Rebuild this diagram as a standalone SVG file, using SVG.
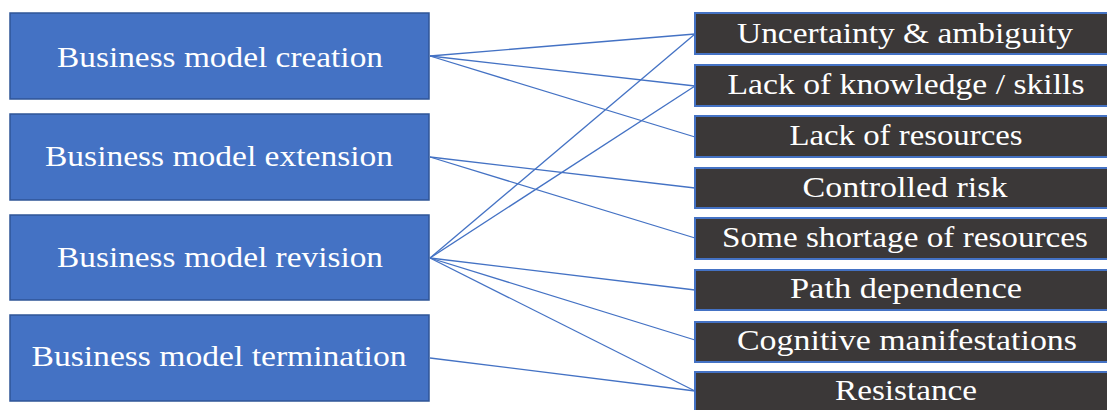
<svg xmlns="http://www.w3.org/2000/svg" width="1107" height="410" viewBox="0 0 1107 410">
  <style>
    .stage rect { fill: #4472c4; stroke: #2f5597; stroke-width: 1.5; }
    .barrier rect { fill: #3b3838; stroke: #4472c4; stroke-width: 2; }
    text { font-family: "Liberation Serif", "Times New Roman", serif; font-size: 29px; fill: #ffffff; text-anchor: middle; }
    .links line { stroke: #4472c4; stroke-width: 1.3; }
  </style>
  <rect width="1107" height="410" fill="#ffffff"/>

  <!-- connectors: stage -> barrier -->
  <g id="links" class="links">
    <line x1="430" y1="56" x2="695" y2="34"/>
    <line x1="430" y1="56" x2="695" y2="86"/>
    <line x1="430" y1="56" x2="695" y2="137"/>
    <line x1="430" y1="157" x2="695" y2="188"/>
    <line x1="430" y1="157" x2="695" y2="238"/>
    <line x1="430" y1="258" x2="695" y2="34"/>
    <line x1="430" y1="258" x2="695" y2="86"/>
    <line x1="430" y1="258" x2="695" y2="290"/>
    <line x1="430" y1="258" x2="695" y2="340"/>
    <line x1="430" y1="258" x2="695" y2="391"/>
    <line x1="430" y1="358" x2="695" y2="391"/>
  </g>

  <!-- business model stages -->
  <g id="stage-creation" class="stage">
    <rect x="10" y="13" width="419" height="86"/>
    <text x="220" y="67" textLength="326" lengthAdjust="spacingAndGlyphs">Business model creation</text>
  </g>
  <g id="stage-extension" class="stage">
    <rect x="10" y="114" width="419" height="86"/>
    <text x="219" y="166" textLength="348" lengthAdjust="spacingAndGlyphs">Business model extension</text>
  </g>
  <g id="stage-revision" class="stage">
    <rect x="10" y="215" width="419" height="85"/>
    <text x="220" y="267" textLength="326" lengthAdjust="spacingAndGlyphs">Business model revision</text>
  </g>
  <g id="stage-termination" class="stage">
    <rect x="10" y="315" width="419" height="86"/>
    <text x="219" y="366" textLength="375" lengthAdjust="spacingAndGlyphs">Business model termination</text>
  </g>

  <!-- barriers -->
  <g id="barrier-uncertainty" class="barrier">
    <rect x="695" y="13" width="420" height="41"/>
    <text x="905" y="43" textLength="336" lengthAdjust="spacingAndGlyphs">Uncertainty &amp; ambiguity</text>
  </g>
  <g id="barrier-knowledge" class="barrier">
    <rect x="695" y="65" width="420" height="41"/>
    <text x="906" y="94" textLength="357" lengthAdjust="spacingAndGlyphs">Lack of knowledge / skills</text>
  </g>
  <g id="barrier-resources" class="barrier">
    <rect x="695" y="116" width="420" height="41"/>
    <text x="906" y="145" textLength="233" lengthAdjust="spacingAndGlyphs">Lack of resources</text>
  </g>
  <g id="barrier-risk" class="barrier">
    <rect x="695" y="168" width="420" height="40"/>
    <text x="905" y="197" textLength="205" lengthAdjust="spacingAndGlyphs">Controlled risk</text>
  </g>
  <g id="barrier-shortage" class="barrier">
    <rect x="695" y="218" width="420" height="41"/>
    <text x="905" y="247" textLength="366" lengthAdjust="spacingAndGlyphs">Some shortage of resources</text>
  </g>
  <g id="barrier-path" class="barrier">
    <rect x="695" y="270" width="420" height="40"/>
    <text x="906" y="298" textLength="232" lengthAdjust="spacingAndGlyphs">Path dependence</text>
  </g>
  <g id="barrier-cognitive" class="barrier">
    <rect x="695" y="322" width="420" height="40"/>
    <text x="907" y="350" textLength="340" lengthAdjust="spacingAndGlyphs">Cognitive manifestations</text>
  </g>
  <g id="barrier-resistance" class="barrier">
    <rect x="695" y="372" width="420" height="41"/>
    <text x="906" y="400" textLength="142" lengthAdjust="spacingAndGlyphs">Resistance</text>
  </g>
</svg>
